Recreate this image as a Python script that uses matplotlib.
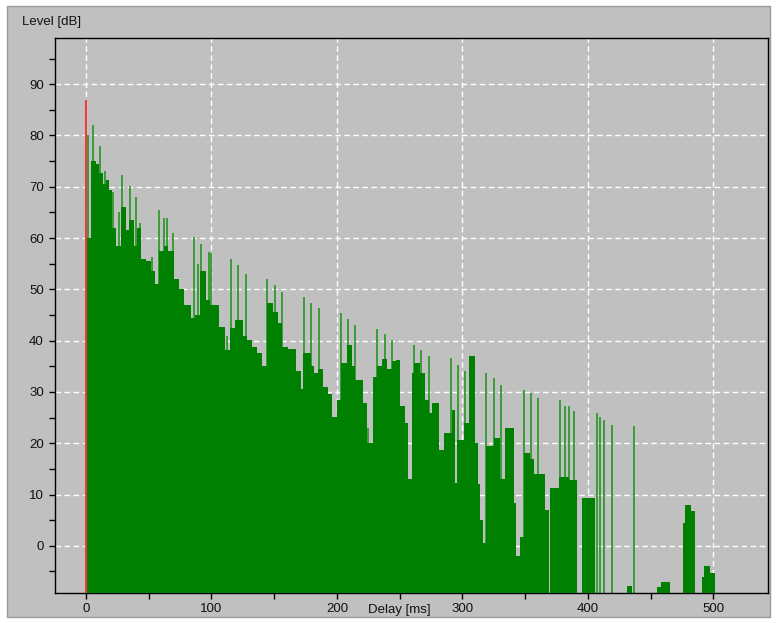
import matplotlib
matplotlib.use("Agg")
import matplotlib.pyplot as plt
from matplotlib.ticker import MultipleLocator
from matplotlib.patches import Rectangle

# echogram: solid reflection envelope as steps (edges in ms, levels in dB)
body_edges = [0, 4, 8, 10.5, 13.3, 16, 18.6, 21, 24, 28, 32, 34.5, 38.5, 41, 43.8,
              47.8, 51.8, 55, 58.5, 62.5, 65, 70.5, 74.4, 78.4, 84, 87, 91, 96, 99,
              106, 111, 115, 119, 125, 128, 132, 136, 140, 144, 149, 153, 156, 161,
              167, 171, 173, 179, 182, 185, 189, 193, 196, 200, 203, 208, 212, 214.5,
              221, 224, 229, 232, 236, 240, 244, 247, 250, 254, 257, 259.7, 261, 266,
              270, 273, 276, 281, 285, 292, 294, 295.6, 301, 305, 310, 312, 314, 316,
              319, 325, 330, 334, 341, 343, 346, 349, 354, 357, 366, 369, 370, 377,
              385, 391, 395, 406, 431, 435, 455, 458, 465.7, 475.6, 477, 482, 485.7,
              491, 492.5, 497, 501.6]
body_db = [60, 75, 74.5, 72.7, 70.5, 71.4, 69.4, 62, 58.4, 66, 61.6, 63.5, 58.5, 62,
           56, 55.5, 53.5, 51, 57.5, 58.4, 57.5, 52, 50, 47, 44.5, 45, 53.5, 48, 47,
           42.7, 38.2, 42.4, 44, 41, 40.1, 38.8, 37.5, 35, 47.3, 45.5, 43.5, 38.8,
           38.3, 34, 30.5, 37.5, 35, 33.6, 34.5, 31, 29.5, 25.2, 28.5, 35.6, 39.2, 35,
           32.4, 27.8, 20, 33, 35, 36.5, 34.5, 36, 36.3, 27.2, 24, 13, 33.7, 35.7,
           33.7, 28.4, 25.9, 27.9, 18.7, 22, 26.5, 12.3, 20.7, 24, 37, 20, 12, 5, 0.6,
           19.4, 21, 13, 23, 8.3, -2, 1.8, 18, 17, 14, 7, -10, 11.2, 13.5, 12.8, -10,
           9.3, -10, -7.9, -10, -8, -7.1, -10, 4.5, 8, 6.7, -10, -6, -4, -5.3]

# individual reflections rising above the envelope
spike_ms = [1.8, 5.6, 11, 15.4, 21.8, 26, 29, 35, 40, 43, 52.4, 58, 62.5, 64.6, 69,
            86.3, 89, 91.7, 98, 99.5, 112.6, 115.6, 121, 127.5, 144.5, 150.5, 156,
            174, 179.5, 185.3, 203, 208.4, 214.5, 225, 232.3, 238, 243.8, 261, 267,
            273, 291, 296.4, 301.7, 318.7, 325.4, 331, 349, 355, 360, 378, 382, 384.6,
            388.6, 407, 409.7, 412.6, 419.2, 436.8]
spike_db = [80, 82, 78, 73, 69, 65, 72.3, 70.2, 68, 63, 56.4, 65.5, 64, 64, 61,
            60.3, 55, 58.8, 57.3, 57, 41, 56, 54.7, 53, 52.1, 50.8, 49.5,
            48.6, 47.4, 46.3, 45.4, 44.2, 43, 23, 42.2, 41.3, 40.2, 39.2, 38.2,
            37, 36.6, 35.3, 34, 33.7, 32.7, 31.4, 30.4, 29.7, 28.8, 28.4, 27.2, 27.2,
            26.2, 25.9, 25.2, 24.6, 23.6, 23.3]

# direct sound
direct_ms = 0
direct_db = 87

YMIN, YMAX = -9.2, 99
XMIN, XMAX = -24.7, 543.5
GRAY = "#c0c0c0"

plt.rcParams["font.family"] = ["Liberation Sans", "DejaVu Sans"]

fig = plt.figure(figsize=(7.77, 6.23), dpi=100)
fig.patch.set_facecolor("white")
frame = Rectangle((7 / 777, 6 / 623), 763 / 777, 611 / 623,
                  transform=fig.transFigure, fc=GRAY, ec="#9a9a9a", lw=1, zorder=-10)
fig.patches.append(frame)

ax = fig.add_axes([55 / 777, 30 / 623, 713 / 777, 555 / 623])
ax.set_zorder(1)
ax.set_facecolor(GRAY)

ax.vlines(spike_ms, YMIN, spike_db, color="#2f9a2f", lw=1.3, zorder=2)
ax.stairs(body_db, body_edges, baseline=YMIN, fill=True, color="#008000", zorder=3)
ax.vlines(direct_ms - 0.9, YMIN, direct_db, color="#9cc6e6", lw=0.8, zorder=4)
ax.vlines(direct_ms, YMIN, direct_db, color="#f03c3c", lw=1.5, zorder=5)

ax.set_xlim(XMIN, XMAX)
ax.set_ylim(YMIN, YMAX)
ax.set_xticks(range(0, 501, 100))
ax.set_yticks(range(0, 91, 10))
ax.xaxis.set_minor_locator(MultipleLocator(50))
ax.yaxis.set_minor_locator(MultipleLocator(5))
ax.tick_params(which="both", direction="out", length=4, width=1, color="black",
               labelsize=9.5, labelcolor="#111111")
ax.tick_params(axis="y", pad=4)
ax.tick_params(axis="x", pad=3)

ax.set_axisbelow(True)
ax.grid(True, which="major", color="white", linestyle=(0, (4, 2.5)), lw=1)
for s in ax.spines.values():
    s.set_color("black")
    s.set_linewidth(1)

fig.text(22 / 777, 1 - 22 / 623, "Level [dB]", ha="left", va="center",
         fontsize=9.5, color="#111111")
fig.text(368 / 777, 1 - 610 / 623, "Delay [ms]", ha="left", va="center",
         fontsize=9.5, color="#111111")

fig.savefig("out.png", dpi=100, facecolor=fig.get_facecolor())
